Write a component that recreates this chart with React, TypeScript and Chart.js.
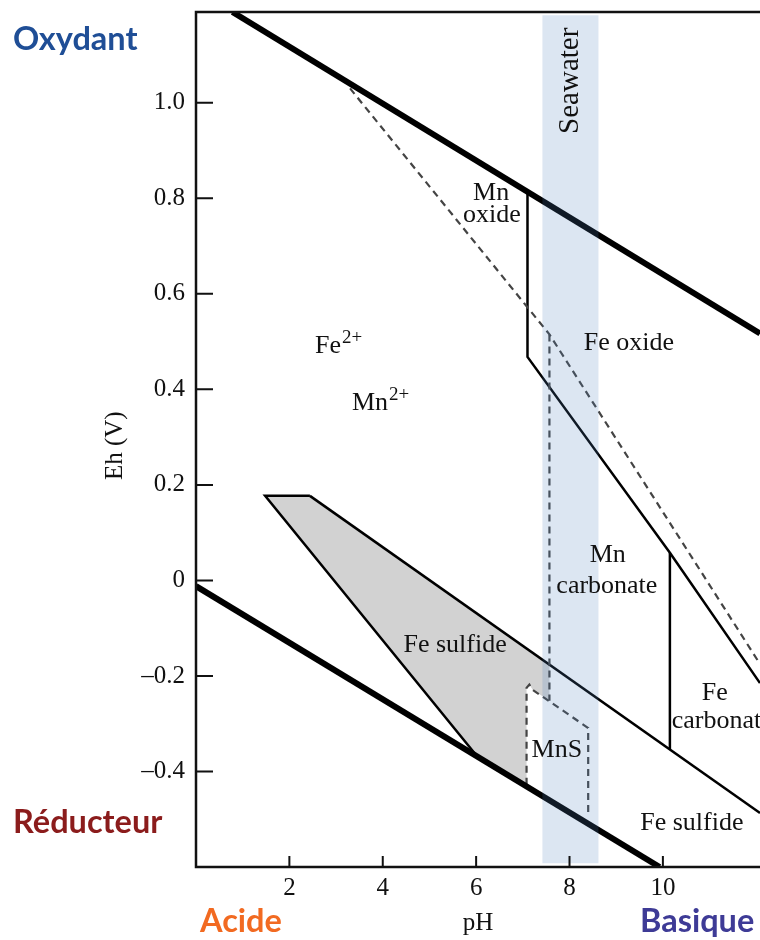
import React, { useEffect, useRef } from 'react';
import { Chart, registerables } from 'chart.js';

Chart.register(...registerables);

// ---- axis ticks ----
const X_TICKS = [2, 4, 6, 8, 10];
const Y_TICKS = [-0.4, -0.2, 0, 0.2, 0.4, 0.6, 0.8, 1.0];
const X_MIN = 0;
const X_MAX = 12.08;
const Y_MIN = -0.6;
const Y_MAX = 1.19;

// ---- boundaries (pH, Eh) ----
const waterUpper = [{ x: 0.78, y: 1.19 }, { x: 12.08, y: 0.517 }];
const waterLower = [{ x: 0, y: -0.012 }, { x: 9.93, y: -0.6 }];
const mnDashed = [{ x: 3.3, y: 1.03 }, { x: 7.57, y: 0.515 }, { x: 12.08, y: -0.175 }];
const mnDashedVertical = [{ x: 7.57, y: 0.515 }, { x: 7.57, y: -0.252 }];
const mnsBoundary = [
  { x: 7.08, y: -0.428 }, { x: 7.08, y: -0.225 }, { x: 7.14, y: -0.218 },
  { x: 7.21, y: -0.229 }, { x: 8.4, y: -0.309 }, { x: 8.4, y: -0.49 },
];
const mnOxideBoundary = [{ x: 7.1, y: 0.81 }, { x: 7.1, y: 0.468 }, { x: 10.15, y: 0.058 }, { x: 12.08, y: -0.215 }];
const mnCarbonateBoundary = [{ x: 10.15, y: 0.058 }, { x: 10.15, y: -0.353 }];
const feSulfideUpper = [{ x: 2.44, y: 0.177 }, { x: 12.08, y: -0.487 }];
const feSulfideLeft = [{ x: 2.44, y: 0.177 }, { x: 1.48, y: 0.177 }, { x: 6.02, y: -0.368 }];
const feSulfideArea = [
  { x: 1.48, y: 0.177 }, { x: 2.44, y: 0.177 }, { x: 7.57, y: -0.177 }, { x: 7.57, y: -0.252 },
  { x: 7.21, y: -0.229 }, { x: 7.14, y: -0.218 }, { x: 7.08, y: -0.225 }, { x: 7.08, y: -0.43 },
  { x: 6.02, y: -0.368 }, { x: 1.48, y: 0.177 },
];
const seawaterBand = [
  { x: 7.42, y: -0.592 }, { x: 8.62, y: -0.592 }, { x: 8.62, y: 1.183 }, { x: 7.42, y: 1.183 }, { x: 7.42, y: -0.592 },
];

// ---- region labels (pH, Eh anchor at text baseline) ----
const regionLabels = [
  { text: 'Mn', x: 6.32, y: 0.797, align: 'center' },
  { text: 'oxide', x: 6.34, y: 0.751, align: 'center' },
  { text: 'Fe oxide', x: 9.27, y: 0.483, align: 'center' },
  { text: 'Fe', sup: '2+', x: 2.55, y: 0.476, align: 'left' },
  { text: 'Mn', sup: '2+', x: 3.34, y: 0.357, align: 'left' },
  { text: 'Mn', x: 8.82, y: 0.039, align: 'center' },
  { text: 'carbonate', x: 8.8, y: -0.026, align: 'center' },
  { text: 'Fe sulfide', x: 5.55, y: -0.15, align: 'center' },
  { text: 'MnS', x: 7.73, y: -0.37, align: 'center' },
  { text: 'Fe', x: 11.11, y: -0.25, align: 'center' },
  { text: 'carbonate', x: 10.19, y: -0.309, align: 'left' },
  { text: 'Fe sulfide', x: 10.62, y: -0.523, align: 'center' },
];
const seawaterLabel = { text: 'Seawater', x: 8.18, y: 1.046 };

const SERIF = '"Liberation Serif", "DejaVu Serif", serif';

const framePlugin = {
  id: 'framePlugin',
  afterDatasetsDraw(chart: any) {
    const { ctx, chartArea: a, scales } = chart;
    ctx.save();
    // region labels
    ctx.fillStyle = '#111';
    ctx.textBaseline = 'alphabetic';
    for (const l of regionLabels) {
      const px = scales.x.getPixelForValue(l.x);
      const py = scales.y.getPixelForValue(l.y);
      ctx.font = `26px ${SERIF}`;
      ctx.textAlign = l.align as CanvasTextAlign;
      ctx.fillText(l.text, px, py);
      if (l.sup) {
        const w = ctx.measureText(l.text).width;
        ctx.font = `19px ${SERIF}`;
        ctx.textAlign = 'left';
        ctx.fillText(l.sup, px + w + 1, py - 10);
      }
    }
    // Seawater rotated
    {
      const px = scales.x.getPixelForValue(seawaterLabel.x);
      const py = scales.y.getPixelForValue(seawaterLabel.y);
      ctx.save();
      ctx.translate(px, py);
      ctx.rotate(-Math.PI / 2);
      ctx.font = `29px ${SERIF}`;
      ctx.textAlign = 'center';
      ctx.fillText(seawaterLabel.text, 0, 0);
      ctx.restore();
    }
    // frame
    ctx.strokeStyle = '#111';
    ctx.lineWidth = 2.5;
    ctx.beginPath();
    ctx.moveTo(a.right, a.top);
    ctx.lineTo(a.left, a.top);
    ctx.lineTo(a.left, a.bottom);
    ctx.lineTo(a.right, a.bottom);
    ctx.stroke();
    // inward ticks
    ctx.lineWidth = 2;
    ctx.beginPath();
    for (const t of X_TICKS) {
      const px = scales.x.getPixelForValue(t);
      ctx.moveTo(px, a.bottom);
      ctx.lineTo(px, a.bottom - 11);
    }
    for (const t of Y_TICKS) {
      const py = scales.y.getPixelForValue(t);
      ctx.moveTo(a.left, py);
      ctx.lineTo(a.left + 17, py);
    }
    ctx.stroke();
    ctx.restore();
  },
  afterDraw(chart: any) {
    const { ctx } = chart;
    ctx.save();
    ctx.textAlign = 'left';
    ctx.textBaseline = 'alphabetic';
    const sans = '"Lato", "Open Sans", sans-serif';
    ctx.font = `bold 32.5px ${sans}`;
    ctx.fillStyle = '#1F4E96';
    ctx.fillText('Oxydant', 13, 50);
    ctx.fillStyle = '#8B1C1C';
    ctx.fillText('Réducteur', 13, 833);
    ctx.fillStyle = '#F26A21';
    ctx.fillText('Acide', 200, 932);
    ctx.fillStyle = '#3E3B96';
    ctx.fillText('Basique', 640, 932);
    ctx.restore();
  },
};

function lineDs(data: any[], width: number, extra: any = {}) {
  return {
    data,
    showLine: true,
    pointRadius: 0,
    pointHoverRadius: 0,
    borderColor: '#000',
    borderWidth: width,
    fill: false,
    tension: 0,
    borderCapStyle: 'butt',
    borderJoinStyle: 'miter',
    order: 1,
    ...extra,
  };
}

export default function App() {
  const ref = useRef<HTMLCanvasElement>(null);
  useEffect(() => {
    if (!ref.current) return;
    const chart = new Chart(ref.current, {
      type: 'scatter',
      data: {
        datasets: [
          {
            data: seawaterBand,
            showLine: true,
            pointRadius: 0,
            borderWidth: 0,
            borderColor: 'rgba(0,0,0,0)',
            backgroundColor: 'rgba(79,129,189,0.2)',
            fill: 'shape',
            order: 0,
          },
          lineDs(waterUpper, 6),
          lineDs(waterLower, 6),
          lineDs(mnDashed, 2.2, { borderColor: '#444', borderDash: [7, 5] }),
          lineDs(mnDashedVertical, 2.2, { borderColor: '#444', borderDash: [7, 5] }),
          lineDs(mnsBoundary, 2.2, { borderColor: '#444', borderDash: [7, 5] }),
          lineDs(mnOxideBoundary, 2.5),
          lineDs(mnCarbonateBoundary, 2.5),
          lineDs(feSulfideUpper, 2.5),
          lineDs(feSulfideLeft, 2.5),
          {
            data: feSulfideArea,
            showLine: true,
            pointRadius: 0,
            borderWidth: 0,
            borderColor: 'rgba(0,0,0,0)',
            backgroundColor: '#d2d2d2',
            fill: 'shape',
            order: 5,
          },
        ],
      },
      options: {
        animation: false,
        responsive: false,
        events: [],
        layout: { padding: { top: 12, right: 0, bottom: 0, left: 0 } },
        plugins: { legend: { display: false }, tooltip: { enabled: false } },
        scales: {
          x: {
            type: 'linear',
            min: X_MIN,
            max: X_MAX,
            grid: { display: false, drawTicks: false },
            border: { display: false },
            afterBuildTicks: (s: any) => { s.ticks = X_TICKS.map((v) => ({ value: v })); },
            afterFit: (s: any) => { s.height = 73; s.paddingLeft = 0; s.paddingRight = 0; },
            ticks: {
              autoSkip: false,
              maxRotation: 0,
              padding: 6,
              color: '#111',
              font: { family: SERIF, size: 25 },
              callback: (v: any) => String(v),
            },
            title: {
              display: true,
              text: 'pH',
              color: '#111',
              font: { family: SERIF, size: 25 },
              padding: { top: 0, bottom: 2 },
            },
          },
          y: {
            type: 'linear',
            min: Y_MIN,
            max: Y_MAX,
            grid: { display: false, drawTicks: false },
            border: { display: false },
            afterBuildTicks: (s: any) => { s.ticks = Y_TICKS.map((v) => ({ value: v })); },
            afterFit: (s: any) => { s.width = 196; s.paddingTop = 0; s.paddingBottom = 0; },
            ticks: {
              autoSkip: false,
              padding: 11,
              color: '#111',
              font: { family: SERIF, size: 25 },
              callback: (v: any) => (v === 0 ? '0' : (v < 0 ? '–' : '') + Math.abs(v).toFixed(1)),
            },
            title: {
              display: true,
              text: 'Eh (V)  ',
              color: '#111',
              font: { family: SERIF, size: 25 },
              padding: { top: 100, bottom: 0 },
            },
          },
        },
      },
      plugins: [framePlugin],
    } as any);
    return () => chart.destroy();
  }, []);
  return (
    <div style={{ position: 'absolute', left: 0, top: 0, width: 760, height: 940, background: '#fff' }}>
      <canvas ref={ref} width={760} height={940} style={{ display: 'block' }} />
    </div>
  );
}
